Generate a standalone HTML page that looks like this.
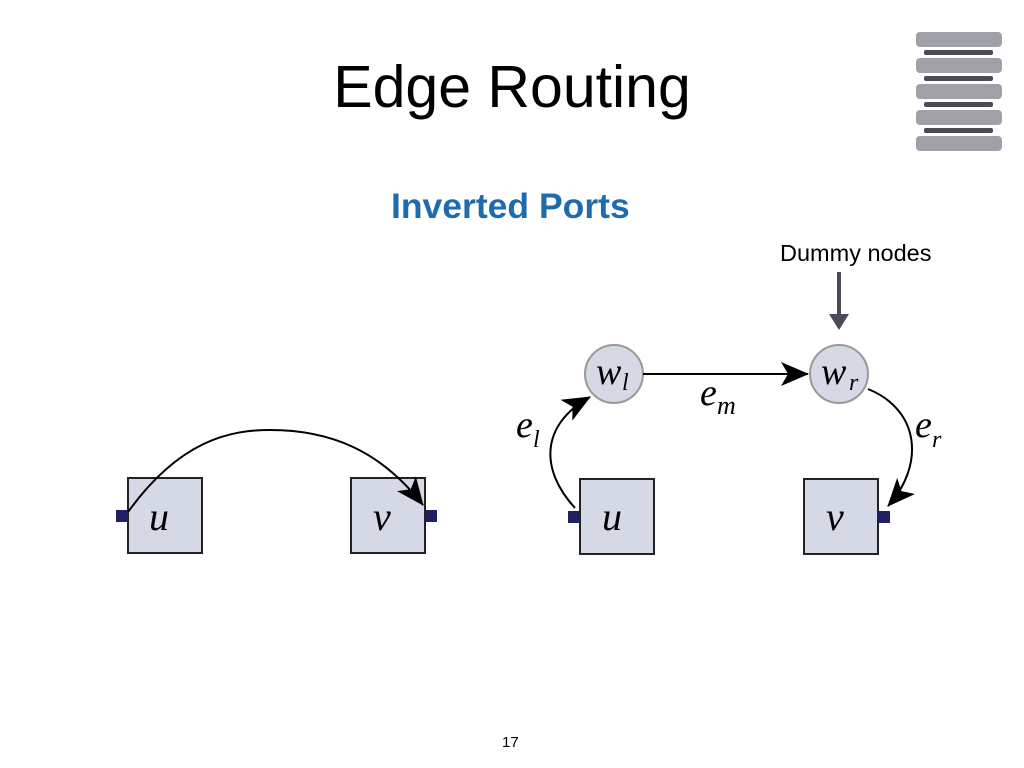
<!DOCTYPE html>
<html><head><style>
body{margin:0;width:1024px;height:768px;background:#fff;overflow:hidden;position:relative;font-family:"Liberation Sans",sans-serif}
.t{position:absolute;white-space:nowrap}
</style></head><body>
<div class="t" style="left:0;width:1024px;text-align:center;top:53px;font-size:59px;color:#000;">Edge Routing</div>
<div class="t" style="left:391px;top:186px;font-size:35.5px;font-weight:bold;color:#1f6bb0">Inverted Ports</div>
<div class="t" style="left:780px;top:240px;font-size:23.5px;color:#000">Dummy nodes</div>
<div class="t" style="left:502px;top:734px;font-size:15px;color:#000">17</div>
<svg width="1024" height="768" style="position:absolute;left:0;top:0">
<defs>
<marker id="b" markerWidth="30" markerHeight="24" refX="27" refY="12" orient="auto" markerUnits="userSpaceOnUse"><path d="M0,0 L28,12 L0,24 L7,12z" fill="#000"/></marker></defs>
<g fill="#a0a1a8">
<rect x="916" y="32" width="86" height="15" rx="4"/><rect x="916" y="58" width="86" height="15" rx="4"/><rect x="916" y="84" width="86" height="15" rx="4"/><rect x="916" y="110" width="86" height="15" rx="4"/><rect x="916" y="136" width="86" height="15" rx="4"/></g>
<g fill="#4a4b57"><rect x="924" y="50" width="69" height="5" rx="2"/><rect x="924" y="76" width="69" height="5" rx="2"/><rect x="924" y="102" width="69" height="5" rx="2"/><rect x="924" y="128" width="69" height="5" rx="2"/></g>
<path d="M839 272 V318" stroke="#4a4b57" stroke-width="4"/>
<path d="M829 314 L839 330 L849 314z" fill="#4a4b57"/>
<g fill="#d5d8e5" stroke="#222" stroke-width="2">
<rect x="128" y="478" width="74" height="75"/><rect x="351" y="478" width="74" height="75"/>
<rect x="580" y="479" width="74" height="75"/><rect x="804" y="479" width="74" height="75"/></g>
<g fill="#1e2060"><rect x="116" y="510" width="12" height="12"/><rect x="425" y="510" width="12" height="12"/><rect x="568" y="511" width="12" height="12"/><rect x="878" y="511" width="12" height="12"/></g>
<g fill="#d5d8e5" stroke="#999" stroke-width="2"><circle cx="614" cy="374" r="29"/><circle cx="839" cy="374" r="29"/></g>
<g fill="none" stroke="#000" stroke-width="2">
<path d="M128 512 C180 440 230 430 270 430 C330 430 380 450 423 505" marker-end="url(#b)"/>
<path d="M643 374 H808" marker-end="url(#b)"/>
<path d="M575 508 C540 470 540 425 590 397" marker-end="url(#b)"/>
<path d="M868 389 C920 410 925 465 888 506" marker-end="url(#b)"/>
</g>
<g font-family="Liberation Serif,serif" font-style="italic" fill="#000">
<text x="149" y="530" font-size="40">u</text><text x="373" y="530" font-size="40">v</text>
<text x="602" y="530" font-size="40">u</text><text x="826" y="530" font-size="40">v</text>
<text x="596" y="384" font-size="38">w</text><text x="622" y="390" font-size="24">l</text>
<text x="821" y="384" font-size="38">w</text><text x="849" y="390" font-size="24">r</text>
<text x="700" y="405" font-size="38">e</text><text x="717" y="414" font-size="26">m</text>
<text x="516" y="437" font-size="38">e</text><text x="533" y="447" font-size="24">l</text>
<text x="915" y="437" font-size="38">e</text><text x="932" y="447" font-size="24">r</text>
</g>
</svg>
</body></html>
